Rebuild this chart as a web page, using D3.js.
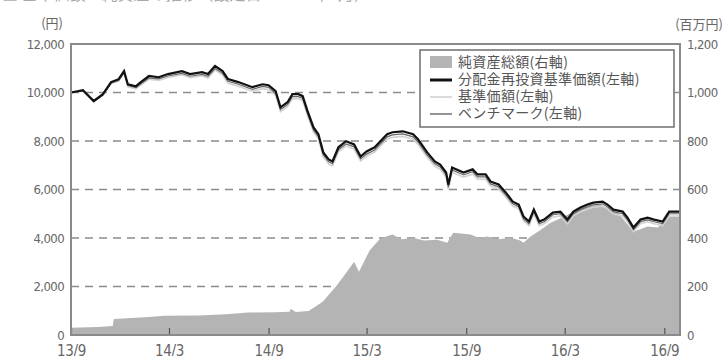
<!DOCTYPE html>
<html>
<head>
<meta charset="utf-8">
<script src="https://cdn.jsdelivr.net/npm/d3@7"></script>
<style>
    body { margin: 0; background: #fff; }
    svg text { font-family: "DejaVu Sans Condensed", "DejaVu Sans", sans-serif; }
    .jp { font-family: "Noto Sans CJK JP", sans-serif; }
</style>
</head>
<body>
<div id="corpo"></div>
<script>
// ==== dados ====
var navDates = ["2013-09-01","2013-09-23","2013-10-13","2013-10-30","2013-11-14","2013-11-28","2013-12-08","2013-12-15","2013-12-30",
    "2014-01-08","2014-01-23","2014-02-10","2014-02-27","2014-03-25","2014-04-09","2014-05-01","2014-05-12","2014-05-25","2014-06-08",
    "2014-06-18","2014-07-07","2014-08-02","2014-08-21","2014-09-01","2014-09-14","2014-09-23","2014-10-06","2014-10-15","2014-10-26",
    "2014-11-03","2014-11-12","2014-11-23","2014-12-02","2014-12-11","2014-12-21","2014-12-28","2015-01-08","2015-01-22","2015-02-06",
    "2015-02-18","2015-03-01","2015-03-16","2015-04-08","2015-04-18","2015-05-07","2015-05-26","2015-06-04","2015-06-21","2015-07-05",
    "2015-07-15","2015-07-26","2015-07-30","2015-08-06","2015-08-27","2015-09-13","2015-09-22","2015-10-07","2015-10-16","2015-10-31",
    "2015-11-13","2015-11-26","2015-12-07","2015-12-16","2015-12-26","2016-01-04","2016-01-14","2016-01-23","2016-02-08","2016-02-22",
    "2016-03-06","2016-03-17","2016-03-30","2016-04-12","2016-04-23","2016-05-10","2016-05-19","2016-05-30","2016-06-16","2016-06-25",
    "2016-07-06","2016-07-19","2016-08-01","2016-08-13","2016-08-29","2016-09-10","2016-09-30"];

// 分配金再投資基準価額 (left axis)
var navReinvest = [10000,10100,9650,9930,10430,10550,10880,10340,10260,
    10430,10680,10630,10760,10880,10760,10840,10760,11090,10880,
    10550,10430,10220,10340,10300,10060,9390,9600,9930,9930,
    9850,9230,8560,8280,7530,7240,7160,7740,7990,7860,
    7360,7570,7740,8280,8360,8400,8280,8070,7530,7160,
    7030,6700,6200,6910,6700,6830,6620,6620,6330,6210,
    5880,5500,5380,4880,4680,5170,4680,4760,5050,5090,
    4760,5090,5260,5380,5460,5500,5380,5170,5090,4840,
    4430,4760,4840,4760,4680,5090,5090];

// 基準価額 (left axis)
var navBase = [10000,10080,9610,9880,10360,10470,10780,10230,10150,
    10310,10550,10500,10620,10730,10610,10690,10600,10930,10720,
    10380,10260,10050,10160,10120,9880,9210,9420,9740,9740,
    9660,9040,8370,8090,7340,7050,6970,7550,7790,7660,
    7170,7370,7540,8070,8150,8190,8070,7860,7330,6960,
    6830,6500,6010,6710,6510,6630,6420,6420,6140,6020,
    5690,5320,5200,4710,4510,4990,4510,4590,4870,4910,
    4590,4910,5080,5190,5270,5310,5200,4990,4910,4670,
    4260,4590,4670,4590,4510,4910,4910];

// ベンチマーク (left axis)
var benchmark = [10000,10060,9620,9900,10390,10500,10820,10290,10200,
    10360,10600,10560,10680,10790,10670,10750,10670,10990,10790,
    10460,10340,10130,10250,10210,9960,9300,9500,9830,9830,
    9750,9130,8460,8180,7430,7140,7060,7640,7880,7760,
    7260,7460,7630,8170,8250,8290,8170,7960,7420,7060,
    6930,6600,6100,6810,6600,6730,6520,6520,6230,6110,
    5780,5410,5290,4790,4590,5080,4590,4670,4960,5000,
    4670,5000,5170,5290,5370,5410,5290,5080,5000,4750,
    4340,4670,4750,4670,4590,5000,5000];

// 純資産総額 (right axis, 百万円)
var assetDates = ["2013-09-01","2013-10-20","2013-11-17","2013-11-19","2014-01-23","2014-02-20","2014-04-24","2014-06-15","2014-07-25",
    "2014-09-14","2014-10-10","2014-10-12","2014-10-21","2014-11-14","2014-12-10","2015-01-03","2015-01-20","2015-02-06","2015-02-15",
    "2015-03-07","2015-03-25","2015-04-05","2015-04-18","2015-05-05","2015-05-26","2015-06-15","2015-07-09","2015-07-28","2015-08-08",
    "2015-09-09","2015-09-25","2015-10-10","2015-11-01","2015-11-22","2015-12-10","2015-12-16","2015-12-29","2016-01-17","2016-02-04",
    "2016-02-28","2016-03-24","2016-04-17","2016-05-06","2016-06-07","2016-07-06","2016-08-01","2016-08-20","2016-09-08","2016-09-30"];
var netAssets = [30,33,37,66,74,79,80,86,93,
    94,96,108,95,99,137,199,250,302,261,
    350,395,405,414,395,401,390,393,380,422,
    414,400,406,395,401,390,380,406,434,463,
    488,517,538,538,505,426,447,443,488,488];

var tickDates = ["2013-09-01","2014-03-01","2014-09-01","2015-03-01","2015-09-01","2016-03-01","2016-09-01"];
var tickLabels = ["13/9","14/3","14/9","15/3","15/9","16/3","16/9"];
var leftTicks = [0,2000,4000,6000,8000,10000,12000];
var rightTicks = [0,200,400,600,800,1000,1200];
var legendLabels = ["純資産総額(右軸)","分配金再投資基準価額(左軸)","基準価額(左軸)","ベンチマーク(左軸)"];

var parseTime = d3.timeParse("%Y-%m-%d");

//tamanho do grafico
var margin = {top: 44, right: 45, bottom: 21, left: 71},
    width = 725 - margin.left - margin.right,
    height = 356 - margin.top - margin.bottom;

var svg = d3.select("#corpo").append("svg")
    .attr("width", 725)
    .attr("height", 356);

// titulo cortado no topo (so aparece a parte de baixo)
svg.append("text")
    .attr("class", "jp")
    .attr("x", 2)
    .attr("y", 0)
    .attr("font-size", 16)
    .attr("fill", "#aaa")
    .text("■ 基準価額・純資産の推移（設定日〜2016年9月）");

var g = svg.append("g")
    .attr("transform", "translate(" + margin.left + "," + margin.top + ")");

// escalas
var x = d3.scaleTime()
    .domain([parseTime("2013-09-01"), parseTime("2016-09-30")])
    .range([0, width]);
var yLeft = d3.scaleLinear().domain([0, 12000]).range([height, 0]);
var yRight = d3.scaleLinear().domain([0, 1200]).range([height, 0]);

var navData = navDates.map(function(d, i) {
    return {date: parseTime(d), reinvest: navReinvest[i], base: navBase[i], bm: benchmark[i]};
});
var assetData = assetDates.map(function(d, i) {
    return {date: parseTime(d), value: netAssets[i]};
});

// grid tracejado
g.append("g")
    .selectAll("line")
    .data(leftTicks.filter(function(d) { return d > 0 && d < 12000; }))
    .enter().append("line")
    .attr("x1", 0)
    .attr("x2", width)
    .attr("y1", function(d) { return yLeft(d); })
    .attr("y2", function(d) { return yLeft(d); })
    .style("stroke", "#8c8c8c")
    .style("stroke-width", 1.3)
    .style("stroke-dasharray", "8,6");

// area do patrimonio
var area = d3.area()
    .x(function(d) { return x(d.date); })
    .y0(height)
    .y1(function(d) { return yRight(d.value); });

g.append("path")
    .datum(assetData)
    .attr("d", area)
    .style("fill", "#b4b4b4");

// linhas
var lineReinvest = d3.line()
    .x(function(d) { return x(d.date); })
    .y(function(d) { return yLeft(d.reinvest); });
var lineBase = d3.line()
    .x(function(d) { return x(d.date); })
    .y(function(d) { return yLeft(d.base); });
var lineBm = d3.line()
    .x(function(d) { return x(d.date); })
    .y(function(d) { return yLeft(d.bm); });

g.append("path")
    .datum(navData)
    .attr("d", lineBase)
    .style("fill", "none")
    .style("stroke", "#d2d2d2")
    .style("stroke-width", 1.6);

g.append("path")
    .datum(navData)
    .attr("d", lineBm)
    .style("fill", "none")
    .style("stroke", "#666")
    .style("stroke-width", 1.2);

g.append("path")
    .datum(navData)
    .attr("d", lineReinvest)
    .style("fill", "none")
    .style("stroke", "#111")
    .style("stroke-width", 2.2);

// eixos
var axisColor = "#8a8a8a";
var fontColor = "#666";

var xAxis = g.append("g")
    .attr("transform", "translate(0," + height + ")")
    .call(d3.axisBottom(x)
        .tickValues(tickDates.map(parseTime))
        .tickFormat(function(d, i) { return tickLabels[i]; })
        .tickSize(-7)
        .tickPadding(10));

var leftAxis = g.append("g")
    .call(d3.axisLeft(yLeft)
        .tickValues(leftTicks)
        .tickFormat(d3.format(","))
        .tickSize(0)
        .tickPadding(7));

var rightAxis = g.append("g")
    .attr("transform", "translate(" + width + ",0)")
    .call(d3.axisRight(yRight)
        .tickValues(rightTicks)
        .tickFormat(d3.format(","))
        .tickSize(0)
        .tickPadding(7));

[xAxis, leftAxis, rightAxis].forEach(function(a) {
    a.select(".domain").remove();
    a.selectAll("line").style("stroke", "#555").style("stroke-width", 1.2);
    a.selectAll("text").attr("fill", fontColor).style("font-size", "13px").style("letter-spacing", "-0.6px");
});
xAxis.selectAll("text").style("font-size", "15px").style("letter-spacing", "-0.3px");

// moldura
g.append("rect")
    .attr("x", 0)
    .attr("y", 0)
    .attr("width", width)
    .attr("height", height)
    .style("fill", "none")
    .style("stroke", axisColor)
    .style("stroke-width", 2);

// unidades
svg.append("text")
    .attr("class", "jp")
    .attr("x", 63)
    .attr("y", 28)
    .attr("text-anchor", "end")
    .attr("fill", fontColor)
    .attr("font-size", 13)
    .text("(円)");

svg.append("text")
    .attr("class", "jp")
    .attr("x", 723)
    .attr("y", 29)
    .attr("text-anchor", "end")
    .attr("fill", fontColor)
    .attr("font-size", 13)
    .text("(百万円)");

///LEGENDA
var legend = svg.append("g");

legend.append("rect")
    .attr("x", 420)
    .attr("y", 50)
    .attr("width", 254)
    .attr("height", 77)
    .style("fill", "#fff")
    .style("stroke", "#777")
    .style("stroke-width", 1.6);

legend.append("rect")
    .attr("x", 430)
    .attr("y", 56)
    .attr("width", 22)
    .attr("height", 12)
    .style("fill", "#b4b4b4");

var legendLines = [
    {color: "#111", w: 3},
    {color: "#d2d2d2", w: 1.6},
    {color: "#666", w: 1.4}
];
legendLines.forEach(function(l, i) {
    legend.append("line")
        .attr("x1", 430)
        .attr("x2", 452)
        .attr("y1", 80 + i * 17)
        .attr("y2", 80 + i * 17)
        .style("stroke", l.color)
        .style("stroke-width", l.w);
});

legendLabels.forEach(function(t, i) {
    legend.append("text")
        .attr("class", "jp")
        .attr("x", 458)
        .attr("y", 62 + i * 17)
        .attr("dy", "0.36em")
        .attr("fill", "#555")
        .attr("font-size", 14)
        .style("letter-spacing", "0.3px")
        .text(t);
});
</script>
</body>
</html>
